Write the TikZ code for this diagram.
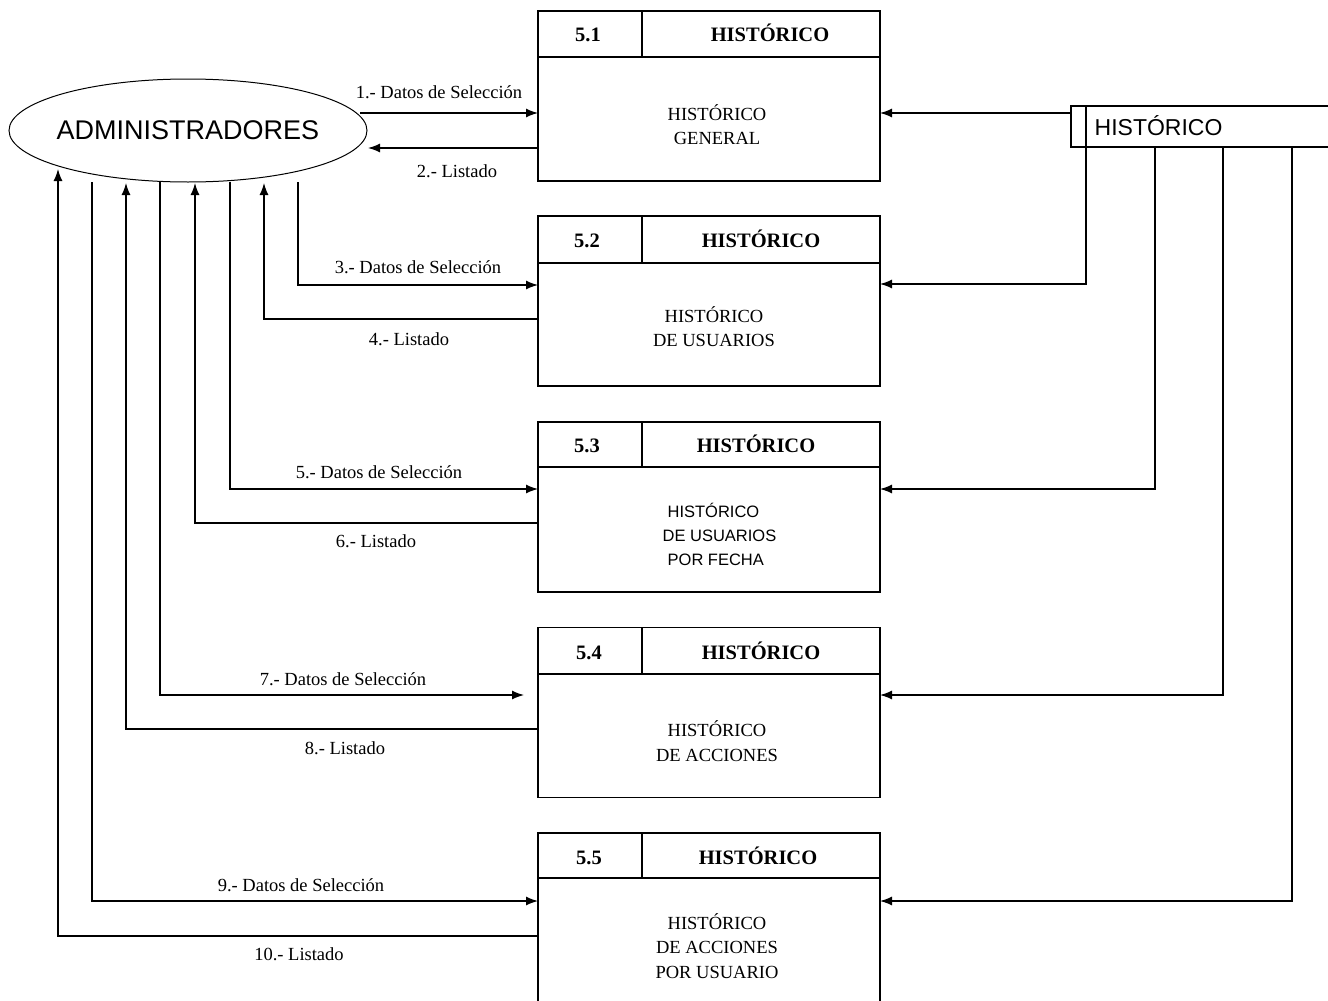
\documentclass[tikz,border=0pt]{standalone}
\usepackage{fontspec}
\setmainfont{Liberation Serif}
\newfontfamily\arialf{Liberation Sans}
\usetikzlibrary{arrows.meta,shapes.geometric}
\begin{document}
\begin{tikzpicture}[x=1pt,y=-1pt,
 line width=1.3pt,
 flow/.style={-{Latex[length=12pt,width=9pt]}},
 box/.style={draw, minimum width=342pt, minimum height=170pt, inner sep=0pt, outer sep=0pt},
 lbl/.style={font=\fontsize{18.5}{20}\selectfont, inner sep=0pt},
 body/.style={font=\fontsize{18.5}{24.5}\selectfont, align=center, inner sep=0pt},
 sbody/.style={font=\arialf\fontsize{16.5}{24}\selectfont, align=left, inner sep=0pt, anchor=west},
 hdr/.style={font=\fontsize{20.5}{24}\selectfont\bfseries, inner sep=0pt, anchor=base},
]
\useasboundingbox (0,0) rectangle (1328,1001);

% external entity
\node[draw, ellipse, line width=1pt, minimum width=358pt, minimum height=103pt,
      inner xsep=-60pt, inner ysep=0pt,
      font=\arialf\fontsize{27}{30}\selectfont] (adm) at (188,130.5) {ADMINISTRADORES};

% process boxes
\node[box] (b1) at (709,96) {};
\node[box] (b2) at (709,301) {};
\node[box] (b3) at (709,507) {};
\node[box] (b4) at (709,712.5) {};
\node[box] (b5) at (709,918) {};

% header lines
\draw (538,57) -- (880,57) (642,11) -- (642,57);
\draw (538,263) -- (880,263) (642,216) -- (642,263);
\draw (538,467) -- (880,467) (642,422) -- (642,467);
\draw (538,674) -- (880,674) (642,628) -- (642,674);
\draw (538,878) -- (880,878) (642,833) -- (642,878);

% header texts
\node[hdr] (n1) at (588,41) {5.1};
\node[hdr] (h1) at (770,41) {HISTÓRICO};
\node[hdr] (n2) at (587,247) {5.2};
\node[hdr] (h2) at (761,247) {HISTÓRICO};
\node[hdr] (n3) at (587,452) {5.3};
\node[hdr] (h3) at (756,452) {HISTÓRICO};
\node[hdr] (n4) at (589,659) {5.4};
\node[hdr] (h4) at (761,659) {HISTÓRICO};
\node[hdr] (n5) at (589,864) {5.5};
\node[hdr] (h5) at (758,864) {HISTÓRICO};

% body texts
\node[body] (t1) at (717,124.5) {HISTÓRICO\\GENERAL};
\node[body] (t2) at (714,326.5) {HISTÓRICO\\DE USUARIOS};
\node[sbody] (t3) at (662,534) {\hspace{5pt}HISTÓRICO\\DE USUARIOS\\\hspace{5pt}POR FECHA};
\node[body] (t4) at (717,741) {HISTÓRICO\\DE ACCIONES};
\node[body] (t5) at (717,946) {HISTÓRICO\\DE ACCIONES\\POR USUARIO};

% data store
\draw (1328,106) -- (1071,106) -- (1071,147) -- (1328,147);
\draw (1086,106) -- (1086,147);
\node[font=\arialf\fontsize{23}{26}\selectfont, inner sep=0pt, anchor=west] (hs) at (1094,126) {HISTÓRICO};

% coordinates on the entity
\coordinate (a1) at (360,113);
\coordinate (a2) at (368,148);
\coordinate (a3) at (298,182);  \coordinate (c3) at (298,285);
\coordinate (a4) at (264,183);  \coordinate (c4) at (264,319);
\coordinate (a5) at (230,182);  \coordinate (c5) at (230,489);
\coordinate (a6) at (195,183);  \coordinate (c6) at (195,523);
\coordinate (a7) at (160,182);  \coordinate (c7) at (160,695); \coordinate (e7) at (524,695);
\coordinate (a8) at (126,183);  \coordinate (c8) at (126,729);
\coordinate (a9) at (92,182);   \coordinate (c9) at (92,901);
\coordinate (a10) at (58,169);  \coordinate (c10) at (58,936);

% flows between entity and processes
\draw[flow] (a1) -- (b1.west |- a1);
\draw[flow] (b1.west |- a2) -- (a2);
\draw[flow] (a3) -- (c3) -- (b2.west |- c3);
\draw[flow] (b2.west |- c4) -- (c4) -- (a4);
\draw[flow] (a5) -- (c5) -- (b3.west |- c5);
\draw[flow] (b3.west |- c6) -- (c6) -- (a6);
\draw[flow] (a7) -- (c7) -- (e7);
\draw[flow] (b4.west |- c8) -- (c8) -- (a8);
\draw[flow] (a9) -- (c9) -- (b5.west |- c9);
\draw[flow] (b5.west |- c10) -- (c10) -- (a10);

% flow labels
\node[lbl] (l1) at (439,92) {1.- Datos de Selección};
\node[lbl] (l2) at (457,171) {2.- Listado};
\node[lbl] (l3) at (418,267) {3.- Datos de Selección};
\node[lbl] (l4) at (409,339) {4.- Listado};
\node[lbl] (l5) at (379,472) {5.- Datos de Selección};
\node[lbl] (l6) at (376,541) {6.- Listado};
\node[lbl] (l7) at (343,679) {7.- Datos de Selección};
\node[lbl] (l8) at (345,748) {8.- Listado};
\node[lbl] (l9) at (301,885) {9.- Datos de Selección};
\node[lbl] (l10) at (299,954) {10.- Listado};

% flows from the store
\coordinate (s1) at (1071,113);
\coordinate (s2) at (1086,147); \coordinate (d2) at (1086,284);
\coordinate (s3) at (1155,147); \coordinate (d3) at (1155,489);
\coordinate (s4) at (1223,147); \coordinate (d4) at (1223,695);
\coordinate (s5) at (1292,147); \coordinate (d5) at (1292,901);
\draw[flow] (s1) -- (b1.east |- s1);
\draw[flow] (s2) -- (d2) -- (b2.east |- d2);
\draw[flow] (s3) -- (d3) -- (b3.east |- d3);
\draw[flow] (s4) -- (d4) -- (b4.east |- d4);
\draw[flow] (s5) -- (d5) -- (b5.east |- d5);
\end{tikzpicture}
\end{document}
